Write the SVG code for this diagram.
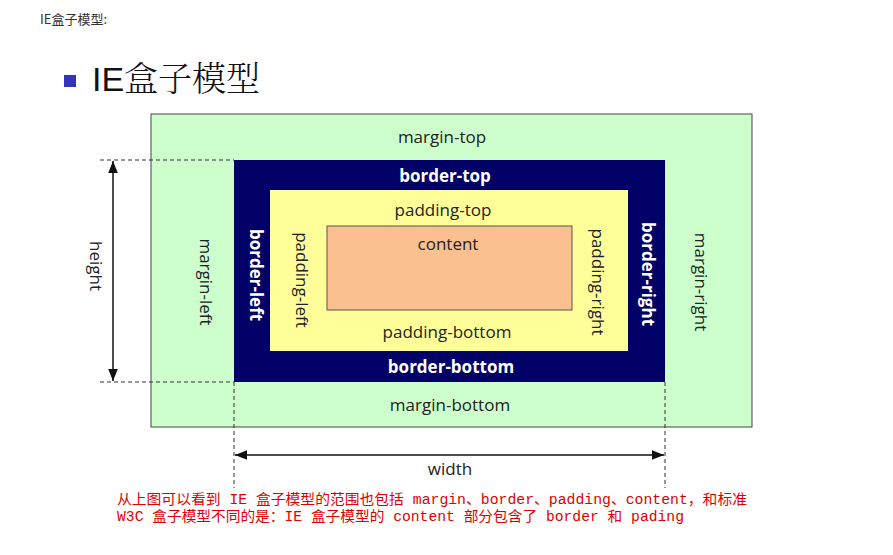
<svg xmlns="http://www.w3.org/2000/svg" width="893" height="555" viewBox="0 0 893 555">
<style>
.t{font-family:"Open Sans","Noto Sans",sans-serif;font-size:17px;text-anchor:middle;dominant-baseline:central;fill:#222}
.w{fill:#fff;font-weight:bold}
.d{stroke:#333;stroke-dasharray:4,3;fill:none}
.r{font-family:"Liberation Mono","Noto Sans CJK SC",monospace;font-size:14px;fill:#e00000}
</style>
<defs><marker id="a" viewBox="0 0 10 10" refX="10" refY="5" markerWidth="8" markerHeight="8" orient="auto-start-reverse"><path d="M0,1 L10,5 L0,9 z" fill="#111"/></marker></defs>
<rect width="893" height="555" fill="#fff"/>
<text x="40" y="24" font-family="Noto Sans CJK SC,sans-serif" font-size="13" fill="#333">IE盒子模型:</text>
<rect x="64" y="75" width="12" height="12" fill="#3333bb"/>
<text x="92" y="91" font-family="Liberation Sans,Noto Sans CJK SC,sans-serif" font-size="34" fill="#111">IE<tspan font-family="Noto Serif CJK SC,Noto Sans CJK SC,serif" font-weight="300">盒子模型</tspan></text>
<g id="margin"><rect x="151" y="114" width="601" height="313" fill="#ccffcc" stroke="#444"/>
<text class="t" x="442" y="136">margin-top</text><text class="t" x="450" y="404">margin-bottom</text>
<text class="t" transform="translate(206,282) rotate(90)">margin-left</text><text class="t" transform="translate(701,282) rotate(90)">margin-right</text></g>
<g id="border"><rect x="234" y="160" width="431" height="222" fill="#000066"/>
<text class="t w" x="445" y="175">border-top</text><text class="t w" x="451" y="366">border-bottom</text>
<text class="t w" transform="translate(256,275) rotate(90)">border-left</text><text class="t w" transform="translate(648,274) rotate(90)">border-right</text></g>
<g id="padding"><rect x="270" y="190" width="358" height="161" fill="#ffff99"/>
<text class="t" x="443" y="209">padding-top</text><text class="t" x="447" y="331">padding-bottom</text>
<text class="t" transform="translate(302,280) rotate(90)">padding-left</text><text class="t" transform="translate(598,282) rotate(90)">padding-right</text></g>
<g id="content"><rect x="327" y="226" width="245" height="84" fill="#fac090" stroke="#555"/>
<text class="t" x="448" y="243">content</text></g>
<g id="connectors">
<path class="d" d="M100,160H234M100,382H234M234,382V488M665,382V488"/>
<line x1="113" y1="161" x2="113" y2="381" stroke="#111" stroke-width="1.5" marker-start="url(#a)" marker-end="url(#a)"/>
<line x1="235" y1="455" x2="664" y2="455" stroke="#111" stroke-width="1.5" marker-start="url(#a)" marker-end="url(#a)"/>
</g>
<text class="t" transform="translate(96,266) rotate(90)">height</text>
<text class="t" x="450" y="468">width</text>
<text class="r" x="117" y="504" textLength="630" lengthAdjust="spacingAndGlyphs">从上图可以看到 IE 盒子模型的范围也包括 margin、border、padding、content，和标准</text>
<text class="r" x="117" y="521" textLength="567" lengthAdjust="spacingAndGlyphs">W3C 盒子模型不同的是：IE 盒子模型的 content 部分包含了 border 和 pading</text>
</svg>
